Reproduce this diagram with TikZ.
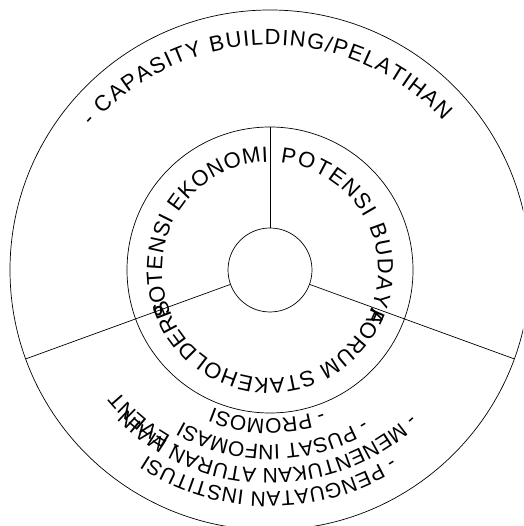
\documentclass[tikz,border=0pt]{standalone}
\usepackage{fontspec}
\usepackage{graphicx}
\setmainfont{Liberation Sans}
\usetikzlibrary{decorations.text}
\newcommand\rtf{\fontsize{22}{26}\selectfont\scalebox{1}[1.15]}
\newcommand\rtb{\fontsize{21}{25}\selectfont\scalebox{1}[1.15]}
\newcommand\rtn{\fontsize{21}{25}\selectfont\scalebox{0.75}[1.15]}
\begin{document}
\begin{tikzpicture}[x=1pt,y=1pt,
  ring/.style={circle, draw=black, line width=0.7pt, inner sep=0pt, outer sep=0pt},
  spoke/.style={draw=black, line width=0.7pt},
  fittext/.style={decorate, decoration={text along path, text align=fit to path, text={#1}}},
  ctrtext/.style={decorate, decoration={text along path, text align=center, text={#1}}}
]
\useasboundingbox (0,0) rectangle (523,526);
\clip (0,0) rectangle (523,526);
\coordinate (C) at (270,256);
\coordinate (T) at (270,245);
\coordinate (B) at (270,260);
\node[ring, minimum size=520pt] (outer) at (C) {};
\node[ring, minimum size=286pt] (mid) at (C) {};
\node[ring, minimum size=84pt] (inner) at (C) {};
\draw[spoke] (inner.90) -- (mid.90);
\draw[spoke] (inner.200) -- (outer.200);
\draw[spoke] (inner.-20) -- (outer.-20);
% outer top text
\path[fittext={|\rtf|- CAPASITY BUILDING/PELATIHAN}] (T) ++(139:236) arc[start angle=139, end angle=42.8, radius=236];
% middle ring
\path[fittext={|\rtf|POTENSI EKONOMI}] (C) ++(205:108) arc[start angle=205, end angle=91, radius=108];
\path[fittext={|\rtf|POTENSI BUDAYA}] (C) ++(84.5:108) arc[start angle=84.5, end angle=-28, radius=108];
\path[fittext={|\rtf|FORUM STAKEHOLDERS}] (C) ++(-20:108) arc[start angle=-20, end angle=-164, radius=108];
% bottom lines
\path[fittext={|\rtb|- PENGUATAN INSTITUSI}] (B) ++(-57.5:226) arc[start angle=-57.5, end angle=-123, radius=226];
\path[fittext={|\rtb|- MENENTUKAN ATURAN MAIN}] (B) ++(-46.5:203) arc[start angle=-46.5, end angle=-135, radius=203];
\path[ctrtext={|\rtb|- PUSAT INFOMASI}] (B) ++(-44:179) arc[start angle=-44, end angle=-134, radius=179];
\path[ctrtext={|\rtb|- PROMOSI}] (B) ++(-56:153) arc[start angle=-56, end angle=-126, radius=153];
\path[ctrtext={|\rtn|- EVENT}] (B) ++(-100:197) arc[start angle=-100, end angle=-157, radius=197];
\end{tikzpicture}
\end{document}
